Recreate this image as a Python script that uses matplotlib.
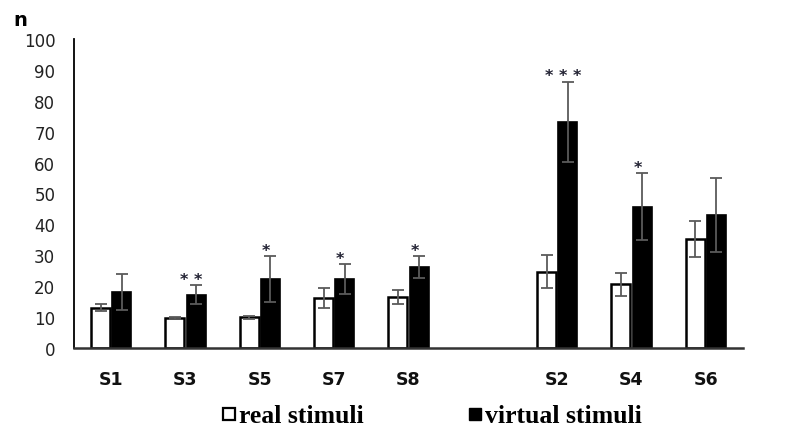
import numpy as np
import matplotlib
matplotlib.use("Agg")
import matplotlib.pyplot as plt
from matplotlib.lines import Line2D

categories = ["S1", "S3", "S5", "S7", "S8", "S2", "S4", "S6"]
real_values = [13.0, 9.6, 9.9, 16.1, 16.6, 24.7, 20.6, 35.3]
real_errors = [1.1, 0.3, 0.4, 3.2, 2.2, 5.4, 3.8, 5.8]
virtual_values = [18.2, 17.3, 22.3, 22.3, 26.1, 73.2, 45.7, 43.0]
virtual_errors = [5.8, 3.0, 7.4, 4.8, 3.6, 13.0, 10.9, 12.0]
significance = ["", "* *", "*", "*", "*", "* * *", "*", ""]
y_ticks = list(range(0, 101, 10))

fig = plt.figure(figsize=(7.92, 4.31), dpi=100)
ax = fig.add_axes([74/792, 1-349/431, (743-74)/792, (349-40)/431])

# two groups with an empty slot between them
x = np.r_[np.arange(5), np.arange(6, 9)].astype(float)
w = 0.255
off = 0.143

ax.bar(x - off, real_values, w, color="white", edgecolor="black", linewidth=1.8, zorder=2)
ax.bar(x + off, virtual_values, w, color="black", edgecolor="black", linewidth=1.2, zorder=2)
ax.errorbar(x - off, real_values, yerr=real_errors, fmt="none", ecolor="#5a5a5a",
            elinewidth=1.3, capsize=4, capthick=1.3, zorder=3)
ax.errorbar(x + off, virtual_values, yerr=virtual_errors, fmt="none", ecolor="#5a5a5a",
            elinewidth=1.3, capsize=4, capthick=1.3, zorder=3)

for xi, v, e, s in zip(x, virtual_values, virtual_errors, significance):
    if s:
        ax.text(xi + off - 0.06, v + e + 0.4, s, ha="center", va="baseline",
                fontsize=11.5, fontweight="bold", color="#222233")

ax.set_xlim(-0.5, 8.5)
ax.set_ylim(0, 100)
ax.set_yticks(y_ticks)
ax.set_yticklabels([str(t) for t in y_ticks], fontsize=12, color="#222222")
ax.set_xticks(x)
ax.set_xticklabels(categories, fontsize=12.5, fontweight="bold", color="#111111")
ax.tick_params(axis="y", length=0, pad=13.5)
ax.tick_params(axis="x", length=0, pad=15.5)

for sp in ["top", "right"]:
    ax.spines[sp].set_visible(False)
ax.spines["left"].set_linewidth(1.3)
ax.spines["left"].set_color("black")
ax.spines["bottom"].set_linewidth(1.8)
ax.spines["bottom"].set_color("#333333")

fig.text(13/792, 1-21/431, "n", fontsize=14, fontweight="bold", va="center", ha="left")

handles = [Line2D([], [], linestyle="none", marker="s", markersize=8.5,
                  markerfacecolor="white", markeredgecolor="black", markeredgewidth=1.6,
                  label="real stimuli"),
           Line2D([], [], linestyle="none", marker="s", markersize=8.5,
                  markerfacecolor="black", markeredgecolor="black",
                  label="virtual stimuli")]
fig.legend(handles=handles, loc="center", bbox_to_anchor=(432/792, 1-417/431), ncol=2,
           frameon=False, handlelength=0.5, handletextpad=0.12,
           columnspacing=4.1,
           prop={"family": "Liberation Serif", "weight": "bold", "size": 18.5})

fig.savefig("out.png", dpi=100, facecolor="white")
